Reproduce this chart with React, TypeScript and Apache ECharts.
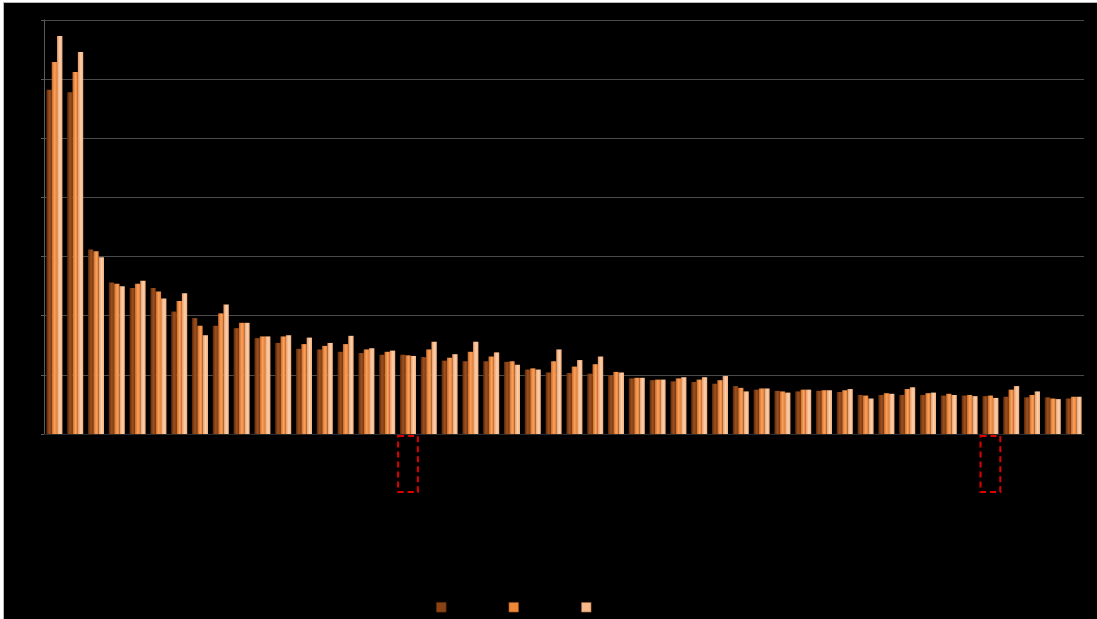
import React, { useEffect, useRef } from "react";
import * as echarts from "echarts";

const categories = [
  "1", "2", "3", "4", "5", "6", "7", "8", "9", "10",
  "11", "12", "13", "14", "15", "16", "17", "18", "19", "20",
  "21", "22", "23", "24", "25", "26", "27", "28", "29", "30",
  "31", "32", "33", "34", "35", "36", "37", "38", "39", "40",
  "41", "42", "43", "44", "45", "46", "47", "48", "49", "50",
];

const seriesNames = ["Series A", "Series B", "Series C"];

const seriesA = [
  5.82, 5.78, 3.12, 2.56, 2.47, 2.47, 2.07, 1.96, 1.83, 1.79,
  1.62, 1.54, 1.44, 1.43, 1.39, 1.37, 1.34, 1.34, 1.30, 1.24,
  1.23, 1.23, 1.22, 1.09, 1.04, 1.03, 1.02, 0.99, 0.94, 0.91,
  0.89, 0.88, 0.85, 0.81, 0.75, 0.73, 0.72, 0.73, 0.71, 0.66,
  0.66, 0.66, 0.66, 0.65, 0.65, 0.64, 0.63, 0.62, 0.62, 0.60,
];
const seriesB = [
  6.29, 6.12, 3.09, 2.54, 2.54, 2.41, 2.25, 1.83, 2.04, 1.88,
  1.65, 1.65, 1.52, 1.49, 1.52, 1.43, 1.39, 1.33, 1.43, 1.29,
  1.39, 1.31, 1.23, 1.11, 1.23, 1.14, 1.18, 1.05, 0.95, 0.92,
  0.94, 0.92, 0.91, 0.78, 0.77, 0.72, 0.75, 0.74, 0.74, 0.65,
  0.69, 0.76, 0.69, 0.68, 0.66, 0.65, 0.75, 0.66, 0.60, 0.63,
];
const seriesC = [
  6.73, 6.46, 2.99, 2.50, 2.59, 2.29, 2.38, 1.67, 2.19, 1.88,
  1.65, 1.67, 1.63, 1.54, 1.66, 1.45, 1.41, 1.32, 1.56, 1.35,
  1.56, 1.38, 1.17, 1.09, 1.43, 1.25, 1.31, 1.04, 0.95, 0.92,
  0.96, 0.96, 0.98, 0.72, 0.77, 0.70, 0.75, 0.74, 0.76, 0.60,
  0.68, 0.79, 0.70, 0.66, 0.64, 0.61, 0.81, 0.72, 0.59, 0.63,
];

const highlighted = ["18", "46"];

const legendColors = ["#8a4314", "#ef8638", "#f7b98a"];

function grad(c0: string, c1: string, c2: string) {
  return new echarts.graphic.LinearGradient(0, 0, 1, 0, [
    { offset: 0, color: c0 },
    { offset: 0.55, color: c1 },
    { offset: 1, color: c2 },
  ]);
}

export default function App() {
  const ref = useRef<HTMLDivElement>(null);
  useEffect(() => {
    if (!ref.current) return;
    const chart = echarts.init(ref.current, null, { renderer: "svg" });
    const fills = [
      grad("#5a2808", "#9c5020", "#7e3c10"),
      grad("#c9661f", "#f8a260", "#ea7a2c"),
      grad("#e69862", "#fdd0ab", "#f3ae7c"),
    ];
    const data = [seriesA, seriesB, seriesC];
    chart.setOption({
      animation: false,
      backgroundColor: "#000000",
      grid: { left: 40, top: 17, right: 13, bottom: 185, containLabel: false },
      legend: {
        left: 432,
        top: 599,
        padding: 0,
        icon: "rect",
        itemWidth: 10,
        itemHeight: 10,
        itemGap: 62,
        formatter: () => "",
        data: seriesNames.map((n, i) => ({
          name: n,
          itemStyle: { color: legendColors[i], borderColor: "#3a1a05", borderWidth: 0.5 },
        })),
        textStyle: { color: "#000" },
      },
      xAxis: {
        type: "category",
        data: categories,
        axisLine: { show: true, lineStyle: { color: "#2a2a2a" } },
        axisTick: { show: false },
        axisLabel: { show: false },
      },
      yAxis: {
        type: "value",
        min: 0,
        max: 7,
        interval: 1,
        axisLine: { show: true, lineStyle: { color: "#5a5a5a" } },
        axisTick: { show: true, length: 3, lineStyle: { color: "#5a5a5a" } },
        axisLabel: { show: false },
        splitLine: { show: true, lineStyle: { color: "#4a4a4a", width: 1 } },
      },
      series: data.map((d, i) => ({
        name: seriesNames[i],
        type: "bar",
        data: d,
        barGap: "0%",
        barCategoryGap: "23%",
        itemStyle: { color: fills[i] },
        emphasis: { disabled: true },
      })),
    });
    const base = chart.convertToPixel({ yAxisIndex: 0 }, 0) as number;
    const w = (chart.convertToPixel({ xAxisIndex: 0 }, categories[1]) as number) -
      (chart.convertToPixel({ xAxisIndex: 0 }, categories[0]) as number);
    chart.setOption({
      graphic: highlighted.map((c) => {
        const cx = chart.convertToPixel({ xAxisIndex: 0 }, c) as number;
        return {
          type: "rect",
          shape: { x: cx - w / 2 + 0.5, y: base + 2, width: w - 1, height: 56 },
          style: { fill: "none", stroke: "#e00000", lineWidth: 2, lineDash: [6, 4] },
        };
      }),
    });
    return () => chart.dispose();
  }, []);
  return (
    <div style={{ position: "fixed", left: 0, top: 0, width: 1097, height: 619, background: "#ffffff", overflow: "hidden" }}>
      <div
        style={{
          position: "absolute",
          left: 3,
          top: 2,
          width: 1093,
          height: 616,
          borderLeft: "1px solid #b8b8b8",
          borderTop: "1px solid #b8b8b8",
        }}
      >
        <div ref={ref} style={{ width: 1093, height: 616 }} />
      </div>
    </div>
  );
}
